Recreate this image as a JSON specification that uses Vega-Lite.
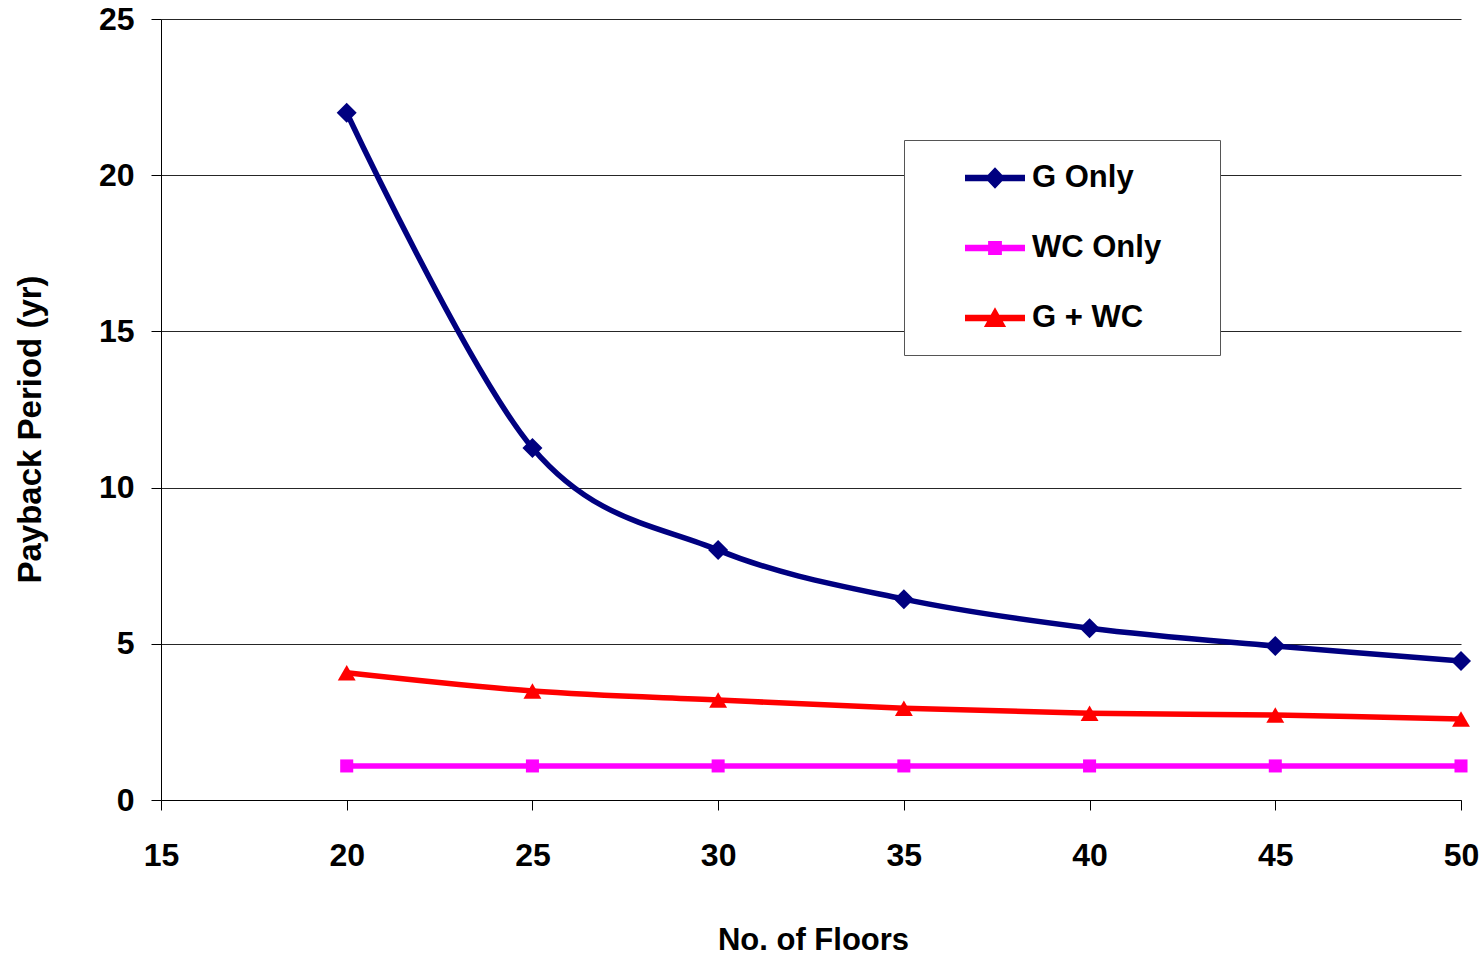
{
  "$schema": "https://vega.github.io/schema/vega-lite/v6.json",
  "autosize": {"type": "none"},
  "padding": {"left": 161, "top": 19, "right": 23, "bottom": 157},
  "width": 1300,
  "height": 781,
  "background": "white",
  "config": {
    "view": {"stroke": null},
    "font": "Liberation Sans",
    "axis": {
      "labelFont": "Liberation Sans",
      "labelFontWeight": "bold",
      "labelFontSize": 32,
      "labelColor": "#000000",
      "labelFlush": false,
      "labelOverlap": false,
      "titleFont": "Liberation Sans",
      "titleFontWeight": "bold",
      "titleFontSize": 31,
      "titleColor": "#000000",
      "domainColor": "#000000",
      "domainWidth": 1,
      "tickColor": "#000000",
      "tickWidth": 1,
      "tickSize": 10
    }
  },
  "data": {
    "values": [
      {"floors": 20, "series": "G Only", "payback": 22.0},
      {"floors": 25, "series": "G Only", "payback": 11.27},
      {"floors": 30, "series": "G Only", "payback": 8.0},
      {"floors": 35, "series": "G Only", "payback": 6.43},
      {"floors": 40, "series": "G Only", "payback": 5.5},
      {"floors": 45, "series": "G Only", "payback": 4.93},
      {"floors": 50, "series": "G Only", "payback": 4.45},
      {"floors": 20, "series": "WC Only", "payback": 1.09},
      {"floors": 25, "series": "WC Only", "payback": 1.09},
      {"floors": 30, "series": "WC Only", "payback": 1.09},
      {"floors": 35, "series": "WC Only", "payback": 1.09},
      {"floors": 40, "series": "WC Only", "payback": 1.09},
      {"floors": 45, "series": "WC Only", "payback": 1.09},
      {"floors": 50, "series": "WC Only", "payback": 1.09},
      {"floors": 20, "series": "G + WC", "payback": 4.07},
      {"floors": 25, "series": "G + WC", "payback": 3.49},
      {"floors": 30, "series": "G + WC", "payback": 3.2},
      {"floors": 35, "series": "G + WC", "payback": 2.94},
      {"floors": 40, "series": "G + WC", "payback": 2.78},
      {"floors": 45, "series": "G + WC", "payback": 2.72},
      {"floors": 50, "series": "G + WC", "payback": 2.59}
    ]
  },
  "encoding": {
    "x": {
      "field": "floors",
      "type": "quantitative",
      "scale": {"domain": [15, 50], "nice": false, "zero": false},
      "axis": {
        "values": [15, 20, 25, 30, 35, 40, 45, 50],
        "grid": false,
        "title": "No. of Floors",
        "labelPadding": 30,
        "titleX": 652,
        "titleY": 140,
        "titleBaseline": "middle",
        "titleAlign": "center"
      }
    },
    "y": {
      "field": "payback",
      "type": "quantitative",
      "scale": {"domain": [0, 25], "nice": false},
      "axis": {
        "values": [0, 5, 10, 15, 20, 25],
        "grid": true,
        "gridColor": "#000000",
        "gridWidth": 1,
        "gridOpacity": 0.85,
        "title": "Payback Period (yr)",
        "titleFontSize": 33,
        "labelPadding": 17,
        "titleAngle": -90,
        "titleX": -131,
        "titleY": 410,
        "titleBaseline": "middle",
        "titleAlign": "center"
      }
    }
  },
  "layer": [
    {
      "transform": [{"filter": "datum.series === 'G Only'"}],
      "mark": {"type": "line", "interpolate": "cardinal", "strokeWidth": 5.5, "color": "#000080"}
    },
    {
      "transform": [{"filter": "datum.series === 'WC Only'"}],
      "mark": {"type": "line", "interpolate": "cardinal", "strokeWidth": 5.5, "color": "#FF00FF"}
    },
    {
      "transform": [{"filter": "datum.series === 'G + WC'"}],
      "mark": {"type": "line", "interpolate": "cardinal", "strokeWidth": 5.5, "color": "#FF0000"}
    },
    {
      "transform": [{"filter": "datum.series === 'G Only'"}],
      "mark": {"type": "point", "shape": "diamond", "filled": true, "opacity": 1, "size": 400, "color": "#000080"}
    },
    {
      "transform": [{"filter": "datum.series === 'WC Only'"}],
      "mark": {"type": "point", "shape": "square", "filled": true, "opacity": 1, "size": 170, "color": "#FF00FF"}
    },
    {
      "transform": [{"filter": "datum.series === 'G + WC'"}],
      "mark": {"type": "point", "shape": "triangle-up", "filled": true, "opacity": 1, "size": 320, "color": "#FF0000"}
    },
    {
      "transform": [{"filter": "datum.floors === 20"}],
      "mark": {"type": "point", "filled": true, "opacity": 0, "size": 3600},
      "encoding": {
        "color": {
          "field": "series",
          "type": "nominal",
          "scale": {
            "domain": ["G Only", "WC Only", "G + WC"],
            "range": ["#000080", "#FF00FF", "#FF0000"]
          },
          "legend": {
            "title": "MMMMMMMMMMMMMMMMMMMMMMMMMMMMMMMMMMMM",
            "titleOrient": "bottom",
            "titleColor": "rgba(0,0,0,0)",
            "titleFontSize": 10,
            "titleFontWeight": "bold",
            "titleLimit": 1000,
            "titlePadding": 4,
            "orient": "none",
            "legendX": 743,
            "legendY": 121,
            "padding": 8,
            "strokeColor": "#555555",
            "fillColor": "#FFFFFF",
            "symbolSize": 3600,
            "symbolOpacity": 1,
            "symbolStrokeWidth": 0,
            "symbolOffset": 53,
            "labelOffset": 7,
            "rowPadding": 25,
            "labelFont": "Liberation Sans",
            "labelFontWeight": "bold",
            "labelFontSize": 31,
            "labelColor": "#000000",
            "labelLimit": 400
          }
        },
        "shape": {
          "field": "series",
          "type": "nominal",
          "scale": {
            "domain": ["G Only", "WC Only", "G + WC"],
            "range": [
              "M-1,-0.11L1,-0.11L1,0.11L-1,0.11Z M0,-0.36L0.34,0L0,0.36L-0.34,0Z",
              "M-1,-0.11L1,-0.11L1,0.11L-1,0.11Z M-0.23,-0.23L0.23,-0.23L0.23,0.23L-0.23,0.23Z",
              "M-1,-0.11L1,-0.11L1,0.11L-1,0.11Z M0,-0.36L0.37,0.3L-0.37,0.3Z"
            ]
          },
          "legend": {
            "title": "MMMMMMMMMMMMMMMMMMMMMMMMMMMMMMMMMMMM",
            "titleOrient": "bottom",
            "titleColor": "rgba(0,0,0,0)",
            "titleFontSize": 10,
            "titleFontWeight": "bold",
            "titleLimit": 1000,
            "titlePadding": 4,
            "orient": "none",
            "legendX": 743,
            "legendY": 121,
            "padding": 8,
            "strokeColor": "#555555",
            "fillColor": "#FFFFFF",
            "symbolSize": 3600,
            "symbolOpacity": 1,
            "symbolStrokeWidth": 0,
            "symbolOffset": 53,
            "labelOffset": 7,
            "rowPadding": 25,
            "labelFont": "Liberation Sans",
            "labelFontWeight": "bold",
            "labelFontSize": 31,
            "labelColor": "#000000",
            "labelLimit": 400
          }
        }
      }
    }
  ]
}
